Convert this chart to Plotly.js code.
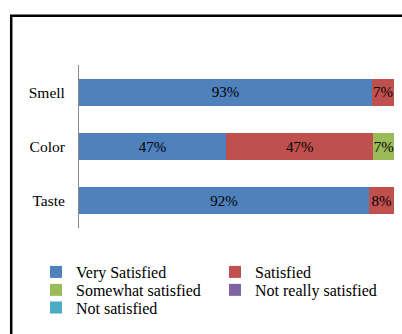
<!DOCTYPE html>
<html>
<head>
<meta charset="utf-8">
<script src="https://cdn.plot.ly/plotly-3.0.1.min.js"></script>
<style>
  html, body { margin: 0; padding: 0; background: #fff; }
  #chart { width: 402px; height: 334px; }
</style>
</head>
<body>
<div id="chart"></div>
<script>
// ---- data ----
const categories = ['Smell', 'Color', 'Taste'];
const seriesNames = ['Very Satisfied', 'Satisfied', 'Somewhat satisfied', 'Not really satisfied', 'Not satisfied'];
const verySatisfied = [93, 46.7, 92];
const satisfied = [7, 46.7, 8];
const somewhatSatisfied = [0, 6.7, 0];
const notReallySatisfied = [0, 0, 0];
const notSatisfied = [0, 0, 0];
const verySatisfiedLabels = ['93%', '47%', '92%'];
const satisfiedLabels = ['7%', '47%', '8%'];
const somewhatSatisfiedLabels = ['', '7%', ''];
const notReallySatisfiedLabels = ['', '', ''];
const notSatisfiedLabels = ['', '', ''];

// ---- styles ----
const colors = ['#4F81BD', '#C0504D', '#9BBB59', '#8064A2', '#4BACC6'];
const FONT = 'Liberation Serif, Times New Roman, serif';
const W = 402, H = 334;
const margin = { l: 79, r: 8, t: 65, b: 105.5, pad: 0, autoexpand: false };
const pw = W - margin.l - margin.r;
const ph = H - margin.t - margin.b;
const px2x = p => (p - margin.l) / pw;
const px2y = p => (H - margin.b - p) / ph;

const values = [verySatisfied, satisfied, somewhatSatisfied, notReallySatisfied, notSatisfied];
const labels = [verySatisfiedLabels, satisfiedLabels, somewhatSatisfiedLabels, notReallySatisfiedLabels, notSatisfiedLabels];
const legendOf = ['legend', 'legend', 'legend2', 'legend2', 'legend3'];

const traces = seriesNames.map((name, i) => ({
  type: 'bar',
  orientation: 'h',
  name: name,
  legend: legendOf[i],
  y: categories,
  x: values[i],
  text: labels[i],
  textposition: 'inside',
  insidetextanchor: 'middle',
  textangle: 0,
  constraintext: 'none',
  textfont: { family: FONT, size: 15, color: '#000' },
  marker: { color: colors[i], line: { width: 0 } },
  hoverinfo: 'none',
  width: 0.5
}));

const LEG_FS = 16;
const legendRow = (centerPx) => ({
  orientation: 'h',
  x: px2x(36),
  xanchor: 'left',
  y: px2y(centerPx - 5 - 0.65 * LEG_FS),
  yanchor: 'top',
  entrywidth: 134,
  entrywidthmode: 'pixels',
  font: { family: FONT, size: LEG_FS, color: '#000' },
  traceorder: 'normal',
  bgcolor: 'rgba(0,0,0,0)',
  borderwidth: 0
});

const layout = {
  width: W,
  height: H,
  margin: margin,
  barmode: 'stack',
  paper_bgcolor: '#fff',
  plot_bgcolor: '#fff',
  font: { family: FONT, size: 15, color: '#000' },
  showlegend: true,
  legend: legendRow(271),
  legend2: legendRow(289),
  legend3: legendRow(306.8),
  xaxis: {
    range: [0, 100],
    showgrid: false,
    zeroline: false,
    showline: false,
    showticklabels: false,
    ticks: '',
    fixedrange: true
  },
  yaxis: {
    type: 'category',
    autorange: 'reversed',
    showgrid: false,
    zeroline: false,
    showline: true,
    linecolor: '#898989',
    linewidth: 1,
    ticks: '',
    ticklabelstandoff: 10,
    tickfont: { family: FONT, size: 15.5, color: '#000' },
    fixedrange: true
  },
  shapes: [{
    type: 'rect',
    xref: 'paper', yref: 'paper',
    x0: px2x(11.2), x1: px2x(420),
    y0: px2y(15.5), y1: px2y(350),
    line: { color: '#000', width: 2.5 },
    fillcolor: 'rgba(0,0,0,0)',
    layer: 'above'
  }]
};

Plotly.newPlot('chart', traces, layout, { staticPlot: true, displayModeBar: false });
</script>
</body>
</html>
